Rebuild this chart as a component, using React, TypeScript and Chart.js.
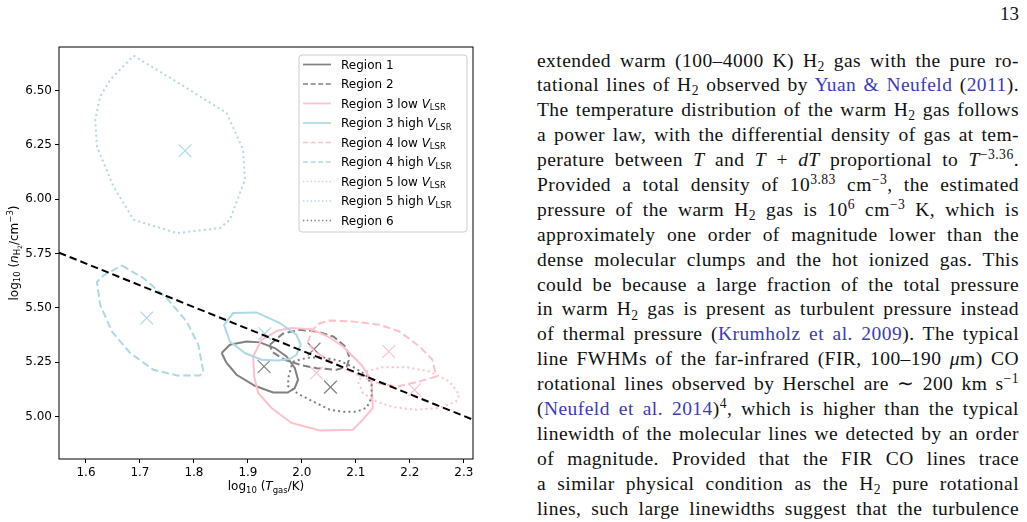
import React, { useEffect, useRef } from 'react';
import { Chart, registerables } from 'chart.js';

Chart.register(...registerables);

type Pt = [number, number];

// Axis extents: log10 T_gas (x) and log10 n_H2 (y)
const xLimits: Pt = [1.55, 2.317];
const yLimits: Pt = [4.804, 6.701];
const xTicks = [1.6, 1.7, 1.8, 1.9, 2.0, 2.1, 2.2, 2.3];
const yTicks = [5.0, 5.25, 5.5, 5.75, 6.0, 6.25, 6.5];

const regionLabels = [
  'Region 1',
  'Region 2',
  'Region 3 low',
  'Region 3 high',
  'Region 4 low',
  'Region 4 high',
  'Region 5 low',
  'Region 5 high',
  'Region 6',
];

// Best-fit (log T, log n) of each region, same order as the labels
const bestT = [1.93, 2.0225, 2.027, 1.9313, 2.161, 1.7126, 2.2086, 1.7835, 2.053];
const bestN = [5.23, 5.31, 5.2, 5.381, 5.299, 5.453, 5.123, 6.223, 5.135];

// Confidence contours, vertices as (log T, log n)
const contour1: Pt[] = [
  [1.8513, 5.292], [1.8666, 5.33], [1.8975, 5.345], [1.9221, 5.341], [1.9498, 5.315],
  [1.9714, 5.276], [1.9868, 5.223], [1.9929, 5.169], [1.9868, 5.131], [1.9738, 5.11],
  [1.9467, 5.11], [1.9128, 5.141], [1.879, 5.192], [1.8605, 5.246],
];
const contour2: Pt[] = [
  [1.9406, 5.33], [1.9646, 5.381], [1.996, 5.399], [2.0293, 5.39], [2.0589, 5.367],
  [2.0811, 5.321], [2.0884, 5.27], [2.0829, 5.229], [2.0644, 5.215], [2.0275, 5.222],
  [1.996, 5.238], [1.9683, 5.261], [1.9443, 5.298],
];
const contour3Low: Pt[] = [
  [1.9097, 5.276], [1.9252, 5.353], [1.9559, 5.396], [1.9807, 5.407], [2.0177, 5.402],
  [2.0483, 5.368], [2.0761, 5.322], [2.1101, 5.238], [2.1286, 5.169], [2.1315, 5.039],
  [2.113, 4.985], [2.0945, 4.939], [2.033, 4.935], [1.9807, 4.97], [1.9437, 5.039],
  [1.919, 5.108], [1.9116, 5.184],
];
const contour3High: Pt[] = [
  [1.8556, 5.422], [1.8727, 5.476], [1.916, 5.479], [1.959, 5.43], [1.9899, 5.376],
  [1.9979, 5.33], [1.9899, 5.284], [1.9775, 5.264], [1.9559, 5.258], [1.9252, 5.261],
  [1.8944, 5.292], [1.8666, 5.345],
];
const contour4Low: Pt[] = [
  [2.0108, 5.339], [2.0182, 5.395], [2.033, 5.429], [2.0515, 5.442], [2.094, 5.437],
  [2.1439, 5.422], [2.1809, 5.391], [2.2178, 5.322], [2.2419, 5.261], [2.2487, 5.184],
  [2.2178, 5.161], [2.1772, 5.138], [2.1439, 5.151], [2.0977, 5.197], [2.0515, 5.256],
  [2.0237, 5.298],
];
const contour4High: Pt[] = [
  [1.6665, 5.695], [1.7064, 5.637], [1.7496, 5.545], [1.7866, 5.437], [1.808, 5.33],
  [1.8173, 5.207], [1.8112, 5.189], [1.7681, 5.189], [1.7249, 5.215], [1.6818, 5.292],
  [1.648, 5.391], [1.6263, 5.514], [1.6202, 5.619], [1.6324, 5.649],
];
const contour5Low: Pt[] = [
  [2.1193, 5.207], [2.15, 5.227], [2.1932, 5.227], [2.2363, 5.207], [2.2733, 5.161],
  [2.2918, 5.1], [2.2857, 5.069], [2.2548, 5.039], [2.2117, 5.031], [2.1685, 5.043],
  [2.1378, 5.069], [2.113, 5.108], [2.1038, 5.161],
];
const contour5High: Pt[] = [
  [1.688, 6.661], [1.7618, 6.55], [1.8605, 6.397], [1.8912, 6.228], [1.8944, 6.09],
  [1.8666, 5.906], [1.848, 5.867], [1.7681, 5.844], [1.688, 5.906], [1.6509, 6.059],
  [1.6202, 6.243], [1.6171, 6.366], [1.6263, 6.473], [1.6448, 6.55],
];
const contour6: Pt[] = [
  [1.9831, 5.252], [2.009, 5.27], [2.0367, 5.273], [2.07, 5.256], [2.0977, 5.224],
  [2.118, 5.192], [2.1291, 5.146], [2.1291, 5.086], [2.1199, 5.04], [2.1014, 5.022],
  [2.0755, 5.022], [2.0515, 5.031], [2.0182, 5.072], [1.9923, 5.105], [1.9738, 5.141],
  [1.9757, 5.187],
];
const contours = [
  contour1, contour2, contour3Low, contour3High, contour4Low,
  contour4High, contour5Low, contour5High, contour6,
];

// Constant-pressure line across the panel
const isobar: Pt[] = [[1.55, 5.754], [2.317, 4.985]];

// Line styles per region
const GRAY = '#808080';
const PINK = '#ffc0cb';
const BLUE = '#add8e6';
type Dash = 'solid' | 'dashed' | 'dotted';
const regionColour = [GRAY, GRAY, PINK, BLUE, PINK, BLUE, PINK, BLUE, GRAY];
const regionDash: Dash[] = ['solid', 'dashed', 'solid', 'solid', 'dashed', 'dashed', 'dotted', 'dotted', 'dotted'];
const plotDash: Record<Dash, number[]> = { solid: [], dashed: [7.5, 3.5], dotted: [2, 3.2] };
const keyDash: Record<Dash, number[]> = { solid: [], dashed: [5, 2.6], dotted: [1.4, 2.4] };

const SANS = '"DejaVu Sans"';

type Seg = { t: string; s: number; it?: boolean; dy?: number };

function segFont(seg: Seg) {
  return `${seg.it ? 'italic ' : ''}${seg.s}px ${SANS}`;
}

function richWidth(ctx: CanvasRenderingContext2D, segs: Seg[]) {
  let w = 0;
  for (const seg of segs) {
    ctx.font = segFont(seg);
    w += ctx.measureText(seg.t).width;
  }
  return w;
}

function drawRich(ctx: CanvasRenderingContext2D, segs: Seg[], x: number, y: number, centre: boolean) {
  let cx = centre ? x - richWidth(ctx, segs) / 2 : x;
  ctx.textBaseline = 'alphabetic';
  ctx.textAlign = 'left';
  for (const seg of segs) {
    ctx.font = segFont(seg);
    ctx.fillText(seg.t, cx, y + (seg.dy || 0));
    cx += ctx.measureText(seg.t).width;
  }
}

const xTitle: Seg[] = [
  { t: 'log', s: 12 },
  { t: '10', s: 8.5, dy: 2.6 },
  { t: ' (', s: 12 },
  { t: 'T', s: 12, it: true },
  { t: 'gas', s: 8.5, dy: 2.6 },
  { t: '/K)', s: 12 },
];
const yTitle: Seg[] = [
  { t: 'log', s: 12 },
  { t: '10', s: 8.5, dy: 2.6 },
  { t: ' (', s: 12 },
  { t: 'n', s: 12, it: true },
  { t: 'H', s: 8.5, dy: 2.6 },
  { t: '2', s: 6, dy: 4.2 },
  { t: '/cm', s: 12 },
  { t: '\u22123', s: 8.5, dy: -4.8 },
  { t: ')', s: 12 },
];

function keySegs(label: string): Seg[] {
  const segs: Seg[] = [{ t: label, s: 12 }];
  if (label.endsWith('low') || label.endsWith('high')) {
    segs.push({ t: ' ', s: 12 });
    segs.push({ t: 'V', s: 12, it: true });
    segs.push({ t: 'LSR', s: 8.5, dy: 2.4 });
  }
  return segs;
}

const decorPlugin = {
  id: 'decor',
  afterDraw(chart: Chart) {
    const ctx = chart.ctx;
    const a = chart.chartArea;
    ctx.save();
    // frame
    ctx.strokeStyle = '#000';
    ctx.lineWidth = 1;
    ctx.setLineDash([]);
    ctx.strokeRect(a.left, a.top, a.right - a.left, a.bottom - a.top);

    // legend box
    const bx = 299, by = 55, bw = 168, bh = 177, r = 3;
    ctx.beginPath();
    ctx.moveTo(bx + r, by);
    ctx.arcTo(bx + bw, by, bx + bw, by + bh, r);
    ctx.arcTo(bx + bw, by + bh, bx, by + bh, r);
    ctx.arcTo(bx, by + bh, bx, by, r);
    ctx.arcTo(bx, by, bx + bw, by, r);
    ctx.closePath();
    ctx.fillStyle = 'rgba(255,255,255,0.8)';
    ctx.fill();
    ctx.strokeStyle = '#cccccc';
    ctx.lineWidth = 1;
    ctx.stroke();

    regionLabels.forEach((label, i) => {
      const ry = 64.5 + i * 19.5;
      ctx.beginPath();
      ctx.strokeStyle = regionColour[i];
      ctx.lineWidth = 1.7;
      ctx.setLineDash(keyDash[regionDash[i]]);
      ctx.moveTo(303, ry);
      ctx.lineTo(331, ry);
      ctx.stroke();
      ctx.setLineDash([]);
      ctx.fillStyle = '#000';
      drawRich(ctx, keySegs(label), 341, ry + 4.4, false);
    });

    // axis titles
    ctx.fillStyle = '#000';
    drawRich(ctx, xTitle, (a.left + a.right) / 2, 490, true);
    ctx.translate(17.5, (a.top + a.bottom) / 2);
    ctx.rotate(-Math.PI / 2);
    drawRich(ctx, yTitle, 0, 0, true);
    ctx.restore();
  },
};

function ChartPanel() {
  const ref = useRef<HTMLCanvasElement | null>(null);

  useEffect(() => {
    if (!ref.current) return;
    const layers: any[] = [];
    contours.forEach((poly, i) => {
      const closed = [...poly, poly[0]];
      layers.push({
        label: regionLabels[i],
        data: closed.map(([x, y]) => ({ x, y })),
        showLine: true,
        fill: false,
        tension: 0,
        borderColor: regionColour[i],
        borderWidth: 2,
        borderDash: plotDash[regionDash[i]],
        pointRadius: 0,
      });
      layers.push({
        label: regionLabels[i] + ' best fit',
        data: [{ x: bestT[i], y: bestN[i] }],
        showLine: false,
        pointStyle: 'crossRot',
        pointRadius: 9,
        borderColor: regionColour[i],
        pointBorderColor: regionColour[i],
        borderWidth: 1.2,
        pointBorderWidth: 1.2,
      });
    });
    layers.push({
      label: 'isobar',
      data: isobar.map(([x, y]) => ({ x, y })),
      showLine: true,
      fill: false,
      borderColor: '#000',
      borderWidth: 2,
      borderDash: [7.5, 4],
      pointRadius: 0,
    });
    // the first dataset is painted last, so put the top layer first
    const datasets = layers.reverse();

    const chart = new Chart(ref.current, {
      type: 'scatter',
      data: { datasets },
      plugins: [decorPlugin],
      options: {
        responsive: false,
        animation: false,
        devicePixelRatio: 1,
        layout: { padding: { left: 0, top: 47, right: 27, bottom: 0 } },
        plugins: { legend: { display: false }, tooltip: { enabled: false } },
        scales: {
          x: {
            type: 'linear',
            min: xLimits[0],
            max: xLimits[1],
            afterBuildTicks: (s: any) => {
              s.ticks = xTicks.map((v) => ({ value: v }));
            },
            afterFit: (s: any) => {
              s.height = 63;
            },
            grid: { drawOnChartArea: false, drawTicks: true, tickLength: 4, color: '#000', lineWidth: 1 },
            border: { display: false },
            ticks: {
              padding: 3,
              color: '#000',
              font: { family: 'DejaVu Sans', size: 12 },
              maxRotation: 0,
              callback: (v: any) => Number(v).toFixed(1),
            },
          },
          y: {
            type: 'linear',
            min: yLimits[0],
            max: yLimits[1],
            afterBuildTicks: (s: any) => {
              s.ticks = yTicks.map((v) => ({ value: v }));
            },
            afterFit: (s: any) => {
              s.width = 59;
            },
            grid: { drawOnChartArea: false, drawTicks: true, tickLength: 4, color: '#000', lineWidth: 1 },
            border: { display: false },
            ticks: {
              padding: 3,
              color: '#000',
              font: { family: 'DejaVu Sans', size: 12 },
              callback: (v: any) => Number(v).toFixed(2),
            },
          },
        },
      } as any,
    });
    return () => chart.destroy();
  }, []);

  return <canvas ref={ref} width={500} height={522} style={{ position: 'absolute', left: 0, top: 0 }} />;
}

const LINK = '#3c3cb4';
const Sub = ({ c }: { c: string }) => (
  <span style={{ fontSize: '70%', position: 'relative', top: '0.3em' }}>{c}</span>
);
const Sup = ({ c }: { c: string }) => (
  <span style={{ fontSize: '70%', position: 'relative', top: '-0.5em' }}>{c}</span>
);
const Ref = ({ c }: { c: string }) => <span style={{ color: LINK }}>{c}</span>;
const M = ({ c }: { c: string }) => <i>{c}</i>;

const bodyLines: React.ReactNode[] = [
  <>extended warm (100–4000 K) H<Sub c="2" /> gas with the pure ro-</>,
  <>tational lines of H<Sub c="2" /> observed by <Ref c="Yuan &amp; Neufeld" /> (<Ref c="2011" />).</>,
  <>The temperature distribution of the warm H<Sub c="2" /> gas follows</>,
  <>a power law, with the differential density of gas at tem-</>,
  <>perature between <M c="T" /> and <M c="T" /> + <M c="dT" /> proportional to <M c="T" /><Sup c="−3.36" />.</>,
  <>Provided a total density of 10<Sup c="3.83" /> cm<Sup c="−3" />, the estimated</>,
  <>pressure of the warm H<Sub c="2" /> gas is 10<Sup c="6" /> cm<Sup c="−3" /> K, which is</>,
  <>approximately one order of magnitude lower than the</>,
  <>dense molecular clumps and the hot ionized gas. This</>,
  <>could be because a large fraction of the total pressure</>,
  <>in warm H<Sub c="2" /> gas is present as turbulent pressure instead</>,
  <>of thermal pressure (<Ref c="Krumholz et al. 2009" />). The typical</>,
  <>line FWHMs of the far-infrared (FIR, 100–190 <M c="μ" />m) CO</>,
  <>rotational lines observed by Herschel are ∼ 200 km s<Sup c="−1" /></>,
  <>(<Ref c="Neufeld et al. 2014" />)<Sup c="4" />, which is higher than the typical</>,
  <>linewidth of the molecular lines we detected by an order</>,
  <>of magnitude. Provided that the FIR CO lines trace</>,
  <>a similar physical condition as the H<Sub c="2" /> pure rotational</>,
  <>lines, such large linewidths suggest that the turbulence</>,
];

export default function App() {
  return (
    <div
      style={{
        position: 'fixed',
        left: 0,
        top: 0,
        width: 1027,
        height: 522,
        background: '#fff',
        overflow: 'hidden',
      }}
    >
      <ChartPanel />
      <div
        style={{
          position: 'absolute',
          right: 8,
          top: 5,
          fontFamily: '"Liberation Serif", serif',
          fontSize: 19,
          lineHeight: '18px',
          color: '#111',
        }}
      >
        13
      </div>
      <div
        style={{
          position: 'absolute',
          left: 537,
          top: 48.5,
          width: 482,
          fontFamily: '"Liberation Serif", serif',
          fontSize: 19.5,
          letterSpacing: '0.45px',
          color: '#111',
        }}
      >
        {bodyLines.map((line, i) => (
          <div
            key={i}
            style={{
              height: 24.9,
              lineHeight: '24.9px',
              whiteSpace: 'nowrap',
              textAlign: 'justify',
              textAlignLast: 'justify',
            }}
          >
            {line}
          </div>
        ))}
      </div>
    </div>
  );
}
